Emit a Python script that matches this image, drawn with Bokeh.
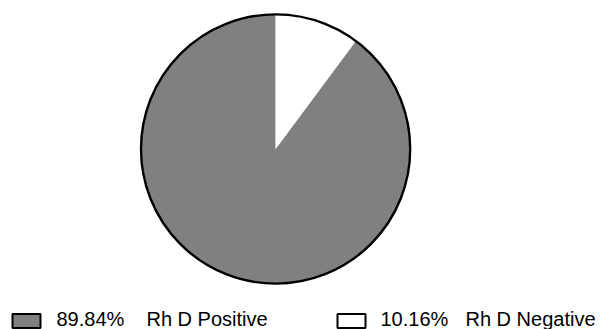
import numpy as np
from bokeh.plotting import figure
from bokeh.models import Range1d, ColumnDataSource
from bokeh.core.properties import value
from bokeh.embed import file_html
from bokeh.resources import INLINE

# Rh D blood group shares (percent)
labels = ["Rh D Positive", "Rh D Negative"]
shares = [89.84, 10.16]
fills = ["#808080", "#ffffff"]

W, H = 611, 329
p = figure(width=W, height=H, output_backend="svg", toolbar_location=None,
           x_range=Range1d(0, W), y_range=Range1d(0, H), min_border=0)
p.axis.visible = False
p.grid.visible = False
p.outline_line_color = None
p.background_fill_color = "white"
p.border_fill_color = "white"

# pie: slices run anticlockwise from twelve o'clock
cx, cy, r = 275.1, H - 148.5, 134.6
frac = np.array(shares) / sum(shares)
ends = np.pi / 2 + 2 * np.pi * np.cumsum(frac)
starts = np.concatenate([[np.pi / 2], ends[:-1]])
src = ColumnDataSource(dict(start=starts, end=ends, color=fills))
p.wedge(x=cx, y=cy, radius=r, start_angle="start", end_angle="end",
        direction="anticlock", fill_color="color", line_color=None, source=src)
p.scatter(x=[cx], y=[cy], size=2 * r, fill_color=None, line_color="black",
          line_width=2.4, marker="circle")

# legend row along the bottom
sw_left = [12, 337]
pct_x = [56, 380]
lab_x = [146, 465]
p.quad(left=sw_left, right=[s + 28 for s in sw_left], bottom=1.5, top=15.5,
       fill_color=fills, line_color="black", line_width=2)
p.text(x=pct_x, y=10.6, text=["%.2f%%" % s for s in shares],
       text_font=value("Liberation Sans"), text_font_size="20px",
       text_color="black", text_baseline="middle", text_align="left")
p.text(x=lab_x, y=10.6, text=labels,
       text_font=value("Liberation Sans"), text_font_size="20px",
       text_color="black", text_baseline="middle", text_align="left")

open("out.html", "w").write(file_html(p, INLINE))
